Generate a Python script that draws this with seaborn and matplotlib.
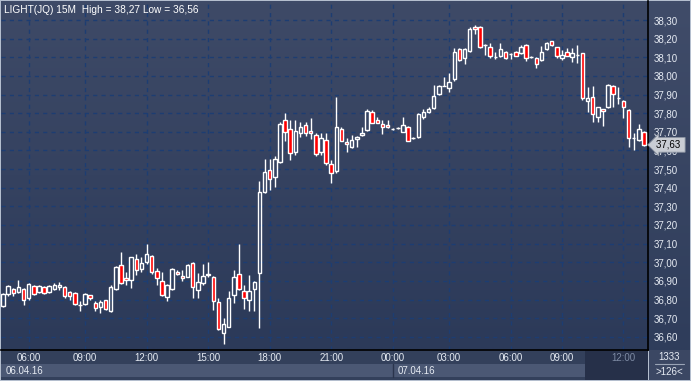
import numpy as np
import pandas as pd
import matplotlib
matplotlib.use("Agg")
import matplotlib.pyplot as plt
import matplotlib.transforms as mtransforms
import seaborn as sns

# 15 minute bars (bar index 0..125)
opens = [36.765, 36.83, 36.855, 36.84, 36.855, 36.81, 36.875, 36.84, 36.865, 36.84,
         36.855, 36.865, 36.865, 36.84, 36.835, 36.77, 36.775, 36.822, 36.782, 36.761,
         36.795, 36.74, 36.854, 36.985, 36.917, 36.904, 37.015, 36.962, 37.003, 37.033,
         36.955, 36.90, 36.815, 36.856, 36.946, 36.926, 36.922, 36.994, 36.85, 36.887,
         36.934, 36.922, 36.785, 36.621, 36.654, 36.824, 36.937, 36.845, 36.797, 36.856,
         36.94, 37.378, 37.495, 37.459, 37.539, 37.763, 37.713, 37.593, 37.692, 37.736,
         37.704, 37.683, 37.593, 37.656, 37.527, 37.491, 37.715, 37.647, 37.62, 37.663,
         37.681, 37.71, 37.805, 37.763, 37.742, 37.736, 37.715, 37.72, 37.70, 37.724,
         37.665, 37.67, 37.781, 37.808, 37.829, 37.901, 37.947, 37.933, 37.982, 38.144,
         38.094, 38.134, 38.261, 38.261, 38.166, 38.153, 38.10, 38.108, 38.13, 38.117,
         38.13, 38.121, 38.166, 38.10, 38.094, 38.085, 38.143, 38.189, 38.153, 38.094,
         38.13, 38.10, 38.112, 38.121, 37.865, 37.888, 37.778, 37.82, 37.831, 37.945,
         37.88, 37.865, 37.817, 37.665, 37.656, 37.70]
highs = [36.835, 36.88, 36.86, 36.905, 36.86, 36.89, 36.88, 36.88, 36.87, 36.88,
         36.89, 36.895, 36.87, 36.845, 36.84, 36.79, 36.835, 36.825, 36.79, 36.80,
         36.80, 36.88, 36.98, 37.053, 36.95, 37.03, 37.043, 37.03, 37.10, 37.04,
         36.97, 36.95, 36.885, 36.97, 36.96, 36.96, 36.99, 37.00, 36.94, 36.99,
         37.003, 36.925, 36.81, 36.70, 36.845, 36.96, 37.10, 36.88, 36.93, 36.90,
         37.436, 37.552, 37.552, 37.57, 37.754, 37.80, 37.763, 37.763, 37.751, 37.754,
         37.772, 37.695, 37.695, 37.692, 37.548, 37.885, 37.726, 37.665, 37.683, 37.675,
         37.724, 37.822, 37.817, 37.781, 37.763, 37.763, 37.72, 37.725, 37.778, 37.73,
         37.67, 37.80, 37.822, 37.833, 37.951, 37.95, 37.992, 38.014, 38.151, 38.151,
         38.151, 38.264, 38.273, 38.27, 38.17, 38.177, 38.13, 38.177, 38.135, 38.125,
         38.135, 38.166, 38.17, 38.105, 38.10, 38.16, 38.18, 38.19, 38.155, 38.139,
         38.15, 38.15, 38.166, 38.125, 37.942, 37.945, 37.835, 37.825, 37.955, 37.95,
         37.939, 37.87, 37.82, 37.692, 37.742, 37.705]
lows = [36.76, 36.82, 36.82, 36.835, 36.77, 36.80, 36.825, 36.835, 36.83, 36.835,
        36.85, 36.85, 36.81, 36.80, 36.77, 36.74, 36.77, 36.80, 36.74, 36.73,
        36.745, 36.735, 36.85, 36.885, 36.88, 36.86, 36.93, 36.95, 36.99, 36.935,
        36.88, 36.82, 36.79, 36.85, 36.93, 36.90, 36.92, 36.81, 36.81, 36.88,
        36.92, 36.744, 36.635, 36.56, 36.65, 36.78, 36.85, 36.75, 36.74, 36.74,
        36.647, 37.37, 37.387, 37.402, 37.53, 37.65, 37.548, 37.575, 37.67, 37.677,
        37.661, 37.57, 37.575, 37.52, 37.423, 37.48, 37.65, 37.593, 37.615, 37.62,
        37.68, 37.705, 37.745, 37.745, 37.688, 37.72, 37.71, 37.715, 37.70, 37.65,
        37.66, 37.665, 37.769, 37.802, 37.825, 37.895, 37.945, 37.912, 37.975, 38.08,
        38.062, 38.13, 38.223, 38.15, 38.112, 38.096, 38.09, 38.10, 38.09, 38.09,
        38.105, 38.115, 38.08, 38.095, 38.04, 38.08, 38.14, 38.16, 38.096, 38.085,
        38.105, 38.073, 38.068, 37.871, 37.808, 37.751, 37.754, 37.733, 37.83, 37.831,
        37.849, 37.772, 37.62, 37.602, 37.65, 37.625]
closes = [36.83, 36.87, 36.835, 36.865, 36.795, 36.885, 36.83, 36.875, 36.835, 36.87,
          36.877, 36.88, 36.82, 36.82, 36.775, 36.772, 36.83, 36.807, 36.752, 36.785,
          36.749, 36.868, 36.973, 36.89, 36.903, 37.026, 36.958, 36.994, 37.042, 36.945,
          36.913, 36.824, 36.878, 36.963, 36.935, 36.913, 36.985, 36.865, 36.892, 36.926,
          36.937, 36.793, 36.642, 36.666, 36.81, 36.922, 36.855, 36.806, 36.845, 36.892,
          37.375, 37.486, 37.446, 37.552, 37.742, 37.70, 37.584, 37.704, 37.724, 37.692,
          37.692, 37.581, 37.665, 37.531, 37.48, 37.724, 37.652, 37.633, 37.656, 37.672,
          37.692, 37.812, 37.749, 37.749, 37.724, 37.724, 37.715, 37.72, 37.736, 37.652,
          37.665, 37.795, 37.806, 37.821, 37.892, 37.947, 37.947, 37.969, 38.13, 38.085,
          38.144, 38.252, 38.25, 38.153, 38.166, 38.108, 38.10, 38.144, 38.098, 38.117,
          38.108, 38.153, 38.094, 38.10, 38.064, 38.13, 38.178, 38.166, 38.108, 38.112,
          38.108, 38.121, 38.112, 37.88, 37.88, 37.794, 37.831, 37.811, 37.951, 37.901,
          37.88, 37.831, 37.665, 37.665, 37.713, 37.63]

time_labels = ["06:00", "09:00", "12:00", "15:00", "18:00", "21:00",
               "00:00", "03:00", "06:00", "09:00", "12:00"]
time_bars = [5, 16, 28, 40, 52, 64, 76, 87, 99, 109, 121]
date_labels = ["06.04.16", "07.04.16"]
date_bars = [-0.4, 76]
price_ticks = [36.6, 36.7, 36.8, 36.9, 37.0, 37.1, 37.2, 37.3, 37.4,
               37.5, 37.6, 37.7, 37.8, 37.9, 38.0, 38.1, 38.2, 38.3]
last_price = 37.63
title = "LIGHT(JQ) 15M  High = 38,27 Low = 36,56"
bar_count = "1333"
visible_bars = ">126<"

sns.set_theme(style="dark")
plt.rcParams['font.family'] = ['Liberation Sans', 'DejaVu Sans']

df = pd.DataFrame({"open": opens, "high": highs, "low": lows, "close": closes})
df["bar"] = np.arange(len(df))
df["top"] = df[["open", "close"]].max(axis=1)
df["bottom"] = df[["open", "close"]].min(axis=1)
df["down"] = df["close"] < df["open"]

W, H = 691, 381
fig = plt.figure(figsize=(W / 100, H / 100), dpi=100)
fig.patch.set_facecolor("#b4bece")

xlim = (-0.39, 125.78)
ylim = (36.529, 38.402)


def gradient(axis, top, bottom):
    c = np.array([matplotlib.colors.to_rgb(top), matplotlib.colors.to_rgb(bottom)])
    img = np.linspace(0, 1, 64)[:, None, None] * (c[1] - c[0]) + c[0]
    axis.imshow(img, extent=(0, 1, 0, 1), transform=axis.transAxes,
                aspect="auto", zorder=0, interpolation="bilinear")


# right price strip background
ax_r = fig.add_axes([648 / W, 31 / H, 42 / W, 349 / H])
gradient(ax_r, "#404c69", "#2f3d5b")
ax_r.set_axis_off()

# main chart
ax = fig.add_axes([1 / W, 31 / H, 647 / W, 349 / H])
ax.set_zorder(3)
gradient(ax, "#3e4a67", "#2c3a59")
ax.set_xlim(*xlim)
ax.set_ylim(*ylim)

for p in price_ticks:
    ax.axhline(p, color="#1d3d72", lw=1, ls=(0, (3, 3)), zorder=1)
for b in time_bars:
    ax.axvline(b, color="#1d3d72", lw=1, ls=(0, (3, 3)), zorder=1)

# wicks above and below the body
ax.vlines(df["bar"], df["top"], df["high"], color="white", lw=1, zorder=2)
ax.vlines(df["bar"], df["low"], df["bottom"], color="white", lw=1, zorder=2)
# bodies
face = np.where(df["down"], "#ff0000", "none")
ax.bar(df["bar"], df["top"] - df["bottom"], bottom=df["bottom"], width=0.68,
       color=face, edgecolor="white", linewidth=1.0, zorder=3)

ax.set_yticks(price_ticks)
ax.set_yticklabels([f"{p:.2f}".replace(".", ",") for p in price_ticks])
ax.yaxis.tick_right()
ax.tick_params(axis="y", length=0, pad=4, labelsize=7, labelcolor="#e6ebf3")
ax.set_xticks([])
for s in ["top", "left"]:
    ax.spines[s].set_visible(False)
ax.spines["right"].set_color("black")
ax.spines["bottom"].set_color("black")
ax.spines["right"].set_linewidth(1.2)
ax.spines["bottom"].set_linewidth(1.2)

ax.text(0.004, 0.975, title, transform=ax.transAxes, color="white",
        fontsize=7.3, ha="left", va="center", zorder=5)

trans = mtransforms.blended_transform_factory(ax.transAxes, ax.transData)
ax.text(1.012, last_price, f"{last_price:.2f}".replace(".", ",") + " ", transform=trans,
        fontsize=7, color="black", ha="left", va="center", zorder=6, clip_on=False,
        bbox=dict(boxstyle="larrow,pad=0.24", fc="#c9cdd4", ec="#8d95a3", lw=0.6))

# time strip
ax_t = fig.add_axes([1 / W, 1 / H, 647 / W, 30 / H])
ax_t.set_xlim(*xlim)
ax_t.set_ylim(30, 0)
ax_t.set_facecolor("#33405b")
ax_t.axvspan(date_bars[0], date_bars[1], ymin=0.1, ymax=0.53, color="#4b5874", lw=0)
ax_t.axvspan(date_bars[1], 113.5, ymin=0.1, ymax=0.53, color="#4b5874", lw=0)
ax_t.axvline(date_bars[1], ymin=0.1, ymax=0.53, color="#2a344c", lw=1)
ax_t.axvspan(113.5, xlim[1], color="#263049", lw=0)
for b, lab in zip(time_bars, time_labels):
    col = "#7d8aa3" if b > 113.5 else "#e6ebf3"
    ax_t.text(b, 8, lab, ha="center", va="center", fontsize=7, color=col)
for b, lab in zip(date_bars, date_labels):
    ax_t.text(b + 0.9, 20.5, lab, ha="left", va="center", fontsize=7, color="#e6ebf3")
ax_t.set_xticks([])
ax_t.set_yticks([])
for s in ax_t.spines.values():
    s.set_visible(False)

# bottom right info box
ax_c = fig.add_axes([649 / W, 1 / H, 41 / W, 30 / H])
ax_c.set_xlim(0, 1)
ax_c.set_ylim(30, 0)
ax_c.set_facecolor("#3b4763")
ax_c.text(0.5, 7.5, bar_count, ha="center", va="center", fontsize=7, color="#e6ebf3")
ax_c.plot([0.15, 0.85], [14, 14], color="#9aa4b6", lw=0.8)
ax_c.text(0.5, 22, visible_bars, ha="center", va="center", fontsize=7, color="#e6ebf3")
ax_c.set_xticks([])
ax_c.set_yticks([])
for s in ax_c.spines.values():
    s.set_visible(False)

fig.savefig("out.png", dpi=100, facecolor=fig.get_facecolor())
